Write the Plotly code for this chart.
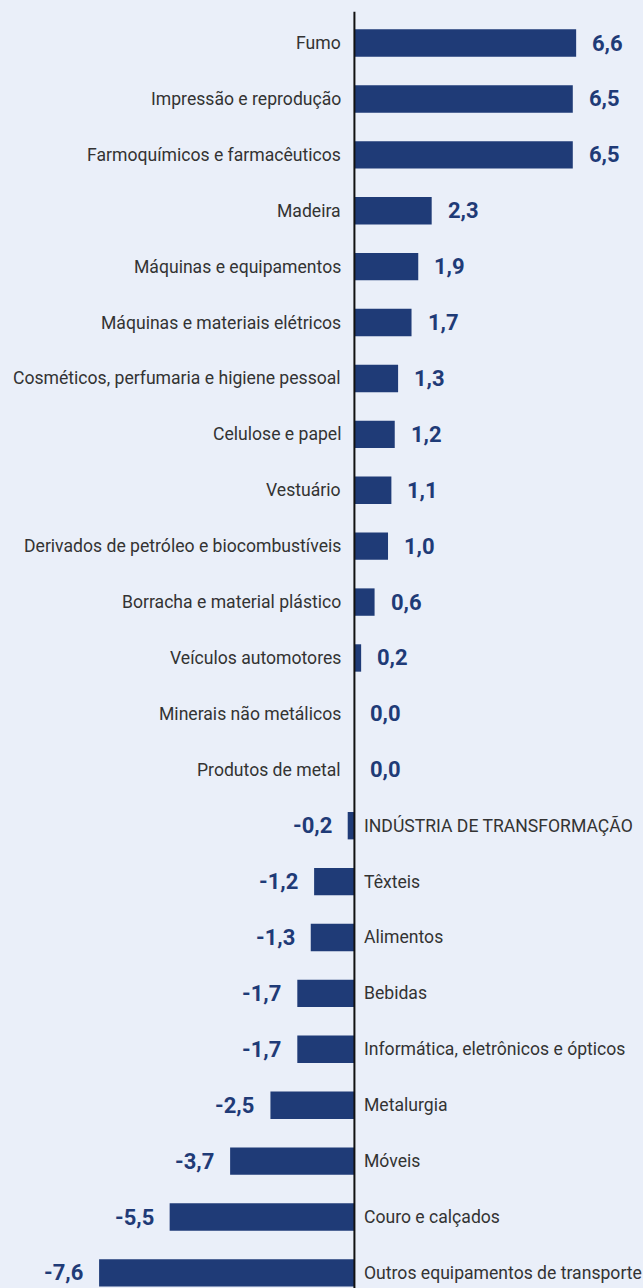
import plotly.graph_objects as go

categories = [
    "Fumo", "Impressão e reprodução", "Farmoquímicos e farmacêuticos", "Madeira",
    "Máquinas e equipamentos", "Máquinas e materiais elétricos",
    "Cosméticos, perfumaria e higiene pessoal", "Celulose e papel", "Vestuário",
    "Derivados de petróleo e biocombustíveis", "Borracha e material plástico",
    "Veículos automotores", "Minerais não metálicos", "Produtos de metal",
    "INDÚSTRIA DE TRANSFORMAÇÃO", "Têxteis", "Alimentos", "Bebidas",
    "Informática, eletrônicos e ópticos", "Metalurgia", "Móveis",
    "Couro e calçados", "Outros equipamentos de transporte",
]
values = [6.6, 6.5, 6.5, 2.3, 1.9, 1.7, 1.3, 1.2, 1.1, 1.0, 0.6, 0.2, 0.0, 0.0,
          -0.2, -1.2, -1.3, -1.7, -1.7, -2.5, -3.7, -5.5, -7.6]

BAR = "#1F3B77"
BG = "#EAEFF9"
CAT_COLOR = "#333333"
FONT = "Roboto"

idx = list(range(len(categories)))

fig = go.Figure()
fig.add_trace(go.Bar(
    x=values, y=idx, orientation="h", marker=dict(color=BAR, line=dict(width=0)),
    width=0.49, hoverinfo="skip",
))

annotations = []
for i, (c, v) in enumerate(zip(categories, values)):
    lab = f"{v:.1f}".replace(".", ",")
    if v >= 0:
        annotations.append(dict(x=0, y=i, text=c, xanchor="right", xshift=-11,
                                showarrow=False, font=dict(family=FONT, size=17.6, color=CAT_COLOR)))
        annotations.append(dict(x=v, y=i, text=f"<b>{lab}</b>", xanchor="left", xshift=14,
                                showarrow=False, font=dict(family=FONT, size=22, color=BAR)))
    else:
        annotations.append(dict(x=0, y=i, text=c, xanchor="left", xshift=8,
                                showarrow=False, font=dict(family=FONT, size=17.6, color=CAT_COLOR)))
        annotations.append(dict(x=v, y=i, text=f"<b>{lab}</b>", xanchor="right", xshift=-14,
                                showarrow=False, font=dict(family=FONT, size=22, color=BAR)))

fig.update_layout(
    width=643, height=1288,
    margin=dict(l=0, r=0, t=0, b=0),
    paper_bgcolor=BG, plot_bgcolor=BG,
    showlegend=False,
    xaxis=dict(range=[-10.55, 8.59], visible=False, fixedrange=True),
    yaxis=dict(range=[22.27, -0.77], visible=False, fixedrange=True),
    annotations=annotations,
    shapes=[dict(type="line", xref="x", yref="y", x0=0, x1=0, y0=-0.56, y1=22.27,
                 line=dict(color="#111111", width=2))],
    font=dict(family=FONT),
)

fig.write_html(
    "out.html",
    config={"displayModeBar": False},
    post_script="document.body.style.margin='0px';document.body.style.overflow='hidden';",
)
